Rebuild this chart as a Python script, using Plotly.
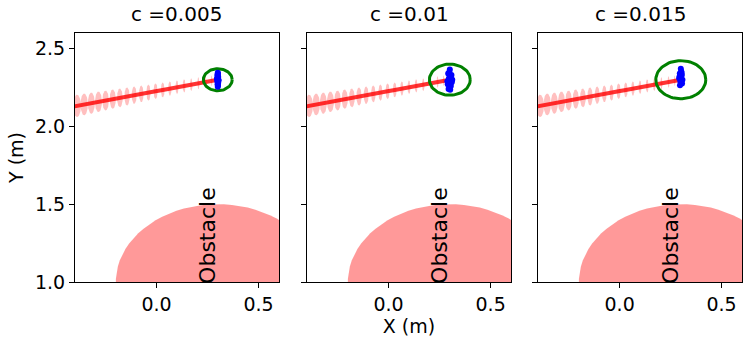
import numpy as np
import plotly.graph_objects as go
from plotly.subplots import make_subplots

# noise levels and the goal region radius for each panel
c_values = [0.005, 0.01, 0.015]
goal_radius = [0.0707, 0.1, 0.1225]
goal_x = 0.3
goal_y = 2.3

# obstacle (circle)
obstacle_x = 0.3
obstacle_y = 1.0
obstacle_r = 0.5

# mean trajectory and its uncertainty ellipses (semi-axes)
traj_x = [-0.46, -0.425, -0.39, -0.355, -0.32, -0.285, -0.25, -0.215, -0.18, -0.145, -0.11, -0.075,
          -0.04, -0.005, 0.03, 0.065, 0.1, 0.135, 0.17, 0.205, 0.24, 0.27, 0.3]
traj_y = [2.115, 2.124, 2.132, 2.141, 2.149, 2.158, 2.166, 2.175, 2.183, 2.192, 2.200, 2.209,
          2.217, 2.226, 2.234, 2.243, 2.251, 2.260, 2.268, 2.277, 2.285, 2.293, 2.300]
unc_rx = [0.020, 0.019, 0.019, 0.018, 0.017, 0.017, 0.016, 0.015, 0.014, 0.013, 0.012, 0.011,
          0.010, 0.010, 0.009, 0.008, 0.007, 0.007, 0.006, 0.005, 0.005, 0.004, 0.004]
unc_ry = [0.075, 0.074, 0.072, 0.070, 0.068, 0.066, 0.064, 0.062, 0.060, 0.058, 0.056, 0.054,
          0.052, 0.050, 0.048, 0.046, 0.044, 0.042, 0.040, 0.038, 0.036, 0.034, 0.032]

# final-state samples per panel
samples_x = [
    [0.300, 0.298, 0.302, 0.296, 0.304, 0.300, 0.299, 0.301, 0.297, 0.303, 0.300, 0.302, 0.298, 0.300, 0.301],
    [0.300, 0.292, 0.308, 0.296, 0.312, 0.288, 0.304, 0.300, 0.294, 0.306, 0.290, 0.310, 0.298, 0.302, 0.296, 0.305],
    [0.300, 0.295, 0.305, 0.292, 0.308, 0.298, 0.306, 0.296, 0.302, 0.294, 0.300, 0.304],
]
samples_y = [
    [2.345, 2.330, 2.318, 2.305, 2.295, 2.285, 2.270, 2.262, 2.310, 2.300, 2.325, 2.280, 2.290, 2.255, 2.340],
    [2.365, 2.340, 2.330, 2.310, 2.300, 2.290, 2.275, 2.255, 2.240, 2.320, 2.270, 2.285, 2.350, 2.235, 2.300, 2.260],
    [2.370, 2.340, 2.330, 2.310, 2.300, 2.290, 2.275, 2.265, 2.355, 2.320, 2.280, 2.345],
]

titles = ['c =0.005', 'c =0.01', 'c =0.015']
yticks = [1.0, 1.5, 2.0, 2.5]
xticks = [0.0, 0.5]

FONT = 'DejaVu Sans'
t = np.linspace(0, 2 * np.pi, 80)


def ellipse(cx, cy, rx, ry):
    return cx + rx * np.cos(t), cy + ry * np.sin(t)


fig = make_subplots(rows=1, cols=3, shared_yaxes=True)
domains = [[0.0, 0.3058], [0.3478, 0.6537], [0.6942, 1.0]]

for i in range(3):
    col = i + 1

    ox, oy = ellipse(obstacle_x, obstacle_y, obstacle_r, obstacle_r)
    fig.add_trace(go.Scatter(x=ox, y=oy, mode='lines', fill='toself', line=dict(width=0),
                             fillcolor='rgba(255,0,0,0.4)', hoverinfo='skip'), row=1, col=col)

    for cx, cy, rx, ry in zip(traj_x, traj_y, unc_rx, unc_ry):
        ex, ey = ellipse(cx, cy, rx, ry)
        fig.add_trace(go.Scatter(x=ex, y=ey, mode='lines', fill='toself', line=dict(width=0),
                                 fillcolor='rgba(255,0,0,0.25)', hoverinfo='skip'), row=1, col=col)

    fig.add_trace(go.Scatter(x=traj_x, y=traj_y, mode='lines',
                             line=dict(color='rgba(255,0,0,0.8)', width=4)), row=1, col=col)

    gx, gy = ellipse(goal_x, goal_y, goal_radius[i], goal_radius[i])
    fig.add_trace(go.Scatter(x=gx, y=gy, mode='lines',
                             line=dict(color='green', width=3)), row=1, col=col)

    fig.add_trace(go.Scatter(x=samples_x[i], y=samples_y[i], mode='markers',
                             marker=dict(color='blue', size=6, line=dict(width=0))), row=1, col=col)

    fig.add_annotation(text='Obstacle', x=0.25, y=1.3, xref=f'x{col}' if col > 1 else 'x',
                       yref=f'y{col}' if col > 1 else 'y', showarrow=False, textangle=-90,
                       font=dict(family=FONT, size=22, color='black'))

    fig.add_annotation(text=titles[i], x=sum(domains[i]) / 2, y=1.0, xref='paper', yref='paper',
                       xanchor='center', yanchor='bottom', yshift=5, showarrow=False,
                       font=dict(family=FONT, size=20, color='black'))

    fig.update_xaxes(domain=domains[i], range=[-0.4, 0.6], tickvals=xticks, tickformat='.1f',
                     showgrid=False, zeroline=False, showline=True, linecolor='black', linewidth=1.2,
                     mirror=True, ticks='outside', ticklen=5, tickcolor='black',
                     tickfont=dict(family=FONT, size=19, color='black'), row=1, col=col)
    fig.update_yaxes(range=[1.0, 2.6], tickvals=yticks, tickformat='.1f',
                     showgrid=False, zeroline=False, showline=True, linecolor='black', linewidth=1.2,
                     mirror=True, ticks='outside', ticklen=5, tickcolor='black',
                     tickfont=dict(family=FONT, size=19, color='black'), row=1, col=col)

fig.update_xaxes(title=dict(text='X (m)', font=dict(family=FONT, size=19, color='black'), standoff=4),
                 row=1, col=2)
fig.update_yaxes(title=dict(text='Y (m)', font=dict(family=FONT, size=19, color='black'), standoff=6),
                 row=1, col=1)

fig.update_layout(
    width=747, height=346,
    margin=dict(l=75, r=5, t=33, b=64),
    showlegend=False,
    plot_bgcolor='white', paper_bgcolor='white',
    font=dict(family=FONT, color='black'),
)

# the page's default body margin would push the figure off the window
fig.write_html('out.html', config={'displayModeBar': False},
               post_script="document.body.style.margin='0';")
